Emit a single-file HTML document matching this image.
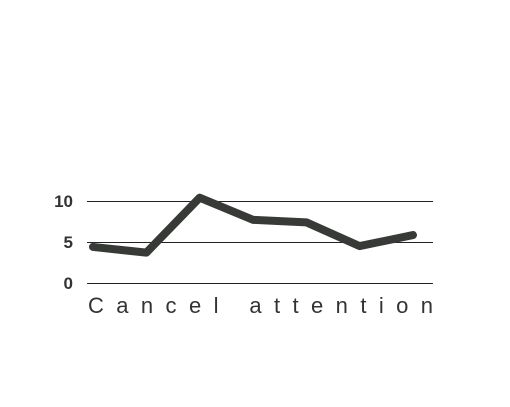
<!DOCTYPE html>
<html><head><meta charset="utf-8"><style>
body{margin:0;background:#fff;width:510px;height:402px;overflow:hidden;font-family:"Liberation Sans",sans-serif}
</style></head><body>
<svg id="chart" width="510" height="402" xmlns="http://www.w3.org/2000/svg"></svg>
<script>
const categories=["a","b","c","d","e","f","g"];
const values=[4.4,3.7,10.4,7.7,7.4,4.5,5.85];
const ticks=[0,5,10];
const xTitle="Cancel attention";
const svg=document.getElementById('chart');
const NS="http://www.w3.org/2000/svg";
const y=v=>283-v*8.2;
const x=i=>93+i*(320/(categories.length-1));
function mk(t,a){const e=document.createElementNS(NS,t);for(const k in a)e.setAttribute(k,a[k]);svg.appendChild(e);return e;}
ticks.forEach(t=>{
 const yy=Math.round(y(t))+0.5;
 const l=mk('line',{x1:87,x2:433,y1:yy,y2:yy,stroke:'#222','stroke-width':1});
 
 
 const tx=mk('text',{x:73,y:y(t)+6,'text-anchor':'end','font-size':17,'font-weight':'bold',fill:'#333'});
 tx.textContent=t;
 
 
});
const p=mk('polyline',{points:values.map((v,i)=>x(i)+','+y(v)).join(' '),fill:'none',stroke:'#383a38','stroke-width':8,'stroke-linejoin':'round','stroke-linecap':'round'});


const tt=mk('text',{x:88,y:313,'font-size':22,fill:'#333',textLength:345,lengthAdjust:'spacing'});
tt.textContent=xTitle;


</script>
</body></html>
